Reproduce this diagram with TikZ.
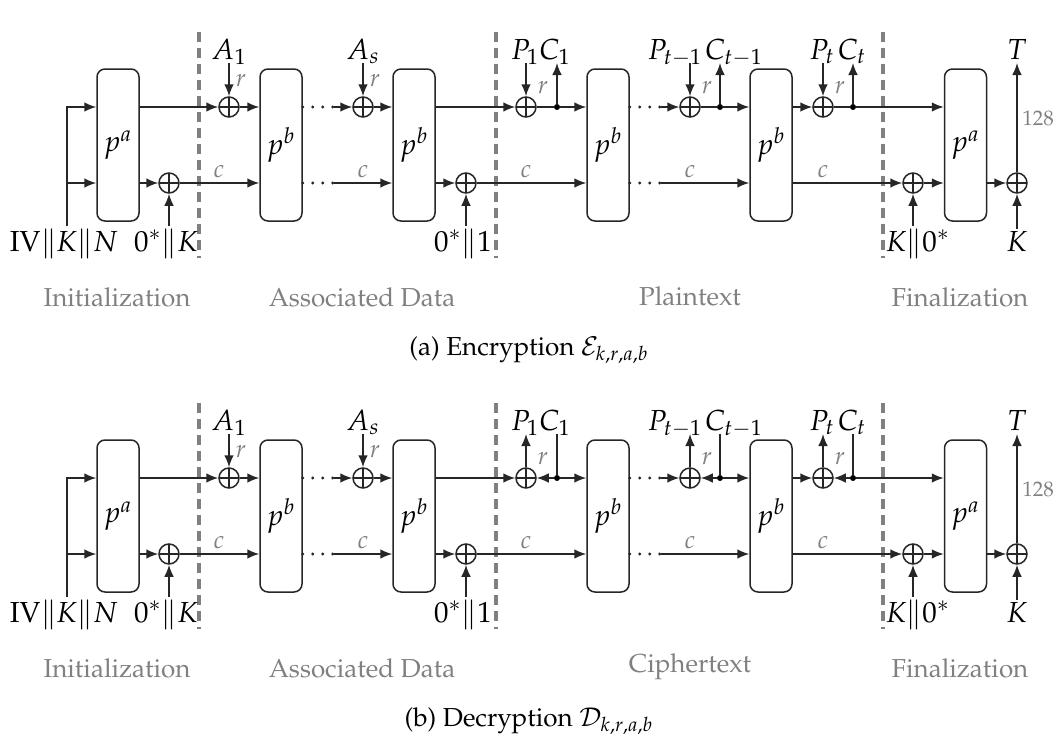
\documentclass[tikz,border=0pt]{standalone}
\usepackage[T1]{fontenc}
\usepackage{mathpazo}
\usetikzlibrary{arrows.meta,calc}
\definecolor{lgray}{RGB}{128,128,128}
\newcommand\lblfont{\fontsize{14.5}{17}\selectfont}
\newcommand\glfont{\fontsize{12.5}{15}\selectfont}
\newcommand\stfont{\fontsize{13}{15}\selectfont}
\newcommand\numfont{\fontsize{10.5}{12}\selectfont}
\tikzset{
 x=0.5pt, y=-0.5pt,
 wire/.style={line width=0.75pt, draw=black!85},
 arr/.style={wire, -{Latex[length=6pt,width=4.8pt]}},
 perm/.style={draw=black!85, line width=0.75pt, rounded corners=4pt, minimum width=21pt, minimum height=76pt, inner sep=0pt, font=\lblfont},
 xorn/.style={circle, draw=black!85, line width=0.75pt, minimum size=10pt, inner sep=0pt,
   path picture={\draw[line width=0.75pt,black!85] (path picture bounding box.north) -- (path picture bounding box.south) (path picture bounding box.west) -- (path picture bounding box.east);}},
 dotn/.style={circle, fill=black, minimum size=3pt, inner sep=0pt},
 lbl/.style={font=\lblfont, inner sep=1pt, anchor=base},
 glbl/.style={font=\glfont, text=lgray, inner sep=0pt},
 stage/.style={font=\stfont, text=lgray, inner sep=1pt},
 capt/.style={font=\stfont, inner sep=1pt},
 sepline/.style={draw=lgray, line width=1.6pt, dash pattern=on 5pt off 3pt},
 dotline/.style={draw=black!85, line width=1.6pt, dash pattern=on 0pt off 5pt, line cap=round},
}
\newcommand\ascondraw[2]{%
 % permutations
 \node[perm] (pa1) at (118,145) {$p^a$};
 \node[perm] (pb1) at (281,145) {$p^b$};
 \node[perm] (pb2) at (414,145) {$p^b$};
 \node[perm] (pb3) at (608,145) {$p^b$};
 \node[perm] (pb4) at (771,145) {$p^b$};
 \node[perm] (pa2) at (965.5,145) {$p^a$};
 % xors and dots
 \node[xorn] (x1) at (169,183) {};
 \node[xorn] (a1) at (229,107) {};
 \node[xorn] (as) at (363,107) {};
 \node[xorn] (x2) at (466,183) {};
 \node[xorn] (p1) at (526,107) {};
 \node[xorn] (pt1) at (690,107) {};
 \node[xorn] (pt) at (823,107) {};
 \node[xorn] (x3) at (913,183) {};
 \node[xorn] (xt) at (1017,183) {};
 \node[dotn] (d1) at (557,107) {};
 \node[dotn] (dt1) at (720,107) {};
 \node[dotn] (dt) at (853,107) {};
 % separators
 \draw[sepline] (199,32) -- (199,258);
 \draw[sepline] (496,32) -- (496,258);
 \draw[sepline] (883,32) -- (883,258);
 % labels
 \node[lbl] (iv) at (64,251) {$\mathrm{IV}\|K\|N$};
 \node[lbl] (k0) at (166,251) {$0^*\|K$};
 \node[lbl] (z1) at (463,251) {$0^*\|1$};
 \node[lbl] (kz) at (918,251) {$K\|0^*$};
 \node[lbl] (kk) at (1017,251) {$K$};
 \node[lbl] (A1) at (229,59) {$A_1$};
 \node[lbl] (As) at (363,59) {$A_s$};
 \node[lbl] (T) at (1017,59) {$T$};
 \node[lbl] (P1) at (525,59) {$P_1$};
 \node[lbl] (C1) at (555,59) {$C_1$};
 \node[lbl] (Pt1) at (675,59) {$P_{t-1}$};
 \node[lbl] (Ct1) at (734,59) {$C_{t-1}$};
 \node[lbl] (Pt) at (822,59) {$P_t$};
 \node[lbl] (Ct) at (852,59) {$C_t$};
 \node[glbl] (r1) at (241,81) {$r$};
 \node[glbl] (r2) at (375,81) {$r$};
 \node[glbl] (r3) at (543,88) {$r$};
 \node[glbl] (r4) at (707,88) {$r$};
 \node[glbl] (r5) at (840,88) {$r$};
 \node[glbl] (c1) at (219,172) {$c$};
 \node[glbl] (c2) at (363,172) {$c$};
 \node[glbl] (c3) at (526,172) {$c$};
 \node[glbl] (c4) at (690,172) {$c$};
 \node[glbl] (c5) at (823,172) {$c$};
 \node[glbl, font=\numfont] (n128) at (1038,118) {128};
 \node[stage] (s1) at (117,297) {Initialization};
 \node[stage] (s2) at (362,297) {Associated Data};
 \node[stage] (s3) at (690,296) {#1};
 \node[stage] (s4) at (960,297) {Finalization};
 \node[capt] (cap) at (529,350) {#2};
 % initialization
 \coordinate (ivx) at (67,0);
 \draw[arr] (iv.north -| ivx) |- (pa1.west |- a1);
 \draw[arr] (ivx |- x1) -- (pa1.west |- x1);
 \draw[arr] (pa1.east |- x1) -- (x1);
 \draw[arr] (k0.north -| x1) -- (x1);
 \draw[arr] (pa1.east |- a1) -- (a1);
 % associated data
 \draw[arr] ($(A1.base)+(0,4)$) -- (a1);
 \draw[arr] (a1) -- (pb1.west |- a1);
 \draw[arr] (x1) -- (pb1.west |- x1);
 \draw[dotline] (pb1.east |- as) -- ++(31,0) coordinate (q1);
 \draw[arr] (q1) -- (as);
 \draw[arr] ($(As.base)+(0,4)$) -- (as);
 \draw[arr] (as) -- (pb2.west |- as);
 \draw[dotline] (pb1.east |- x1) -- ++(31,0) coordinate (q2);
 \draw[arr] (q2) -- (pb2.west |- x1);
 \draw[arr] (pb2.east |- x2) -- (x2);
 \draw[arr] (z1.north -| x2) -- (x2);
 % message
 \draw[arr] (pb2.east |- p1) -- (p1);
 \draw[arr] (x2) -- (pb3.west |- x2);
 \draw[dotline] (pb3.east |- pt1) -- ++(31,0) coordinate (q3);
 \draw[arr] (q3) -- (pt1);
 \draw[dotline] (pb3.east |- x2) -- ++(31,0) coordinate (q4);
 \draw[arr] (q4) -- (pb4.west |- x2);
 \draw[arr] (pb4.east |- pt) -- (pt);
 \draw[arr] (pb4.east |- x3) -- (x3);
 % finalization
 \draw[arr] (kz.north -| x3) -- (x3);
 \draw[arr] (x3) -- (pa2.west |- x3);
 \draw[arr] (pa2.east |- xt) -- (xt);
 \draw[arr] (kk.north) -- (xt);
 \draw[arr] (xt) -- ($(T.base)+(0,4)$);
}
\newcommand\encpart[4]{% xor, dot, P label, C label
 \draw[arr] ($(#3.base -| #1)+(0,4)$) -- (#1);
 \draw[wire] (#1) -- (#2);
 \draw[arr] (#2) -- ($(#4.base -| #2)+(0,4)$);
}
\newcommand\decpart[4]{%
 \draw[arr] (#1) -- ($(#3.base -| #1)+(0,4)$);
 \draw[wire] ($(#4.base -| #2)+(0,4)$) -- (#2);
 \draw[arr] (#2) -- (#1);
}
\begin{document}
\begin{tikzpicture}
\useasboundingbox (0,0) rectangle (1060,744);
\begin{scope}[name prefix=e-]
 \ascondraw{Plaintext}{(a) Encryption $\mathcal{E}_{k,r,a,b}$}
 \encpart{p1}{d1}{P1}{C1}
 \encpart{pt1}{dt1}{Pt1}{Ct1}
 \encpart{pt}{dt}{Pt}{Ct}
 \draw[arr] (d1) -- (pb3.west |- d1);
 \draw[arr] (dt1) -- (pb4.west |- dt1);
 \draw[arr] (dt) -- (pa2.west |- dt);
\end{scope}
\begin{scope}[name prefix=d-, shift={(0,371)}]
 \ascondraw{Ciphertext}{(b) Decryption $\mathcal{D}_{k,r,a,b}$}
 \decpart{p1}{d1}{P1}{C1}
 \decpart{pt1}{dt1}{Pt1}{Ct1}
 \decpart{pt}{dt}{Pt}{Ct}
 \draw[arr] (d1) -- (pb3.west |- d1);
 \draw[arr] (dt1) -- (pb4.west |- dt1);
 \draw[arr] (dt) -- (pa2.west |- dt);
\end{scope}
\end{tikzpicture}
\end{document}
